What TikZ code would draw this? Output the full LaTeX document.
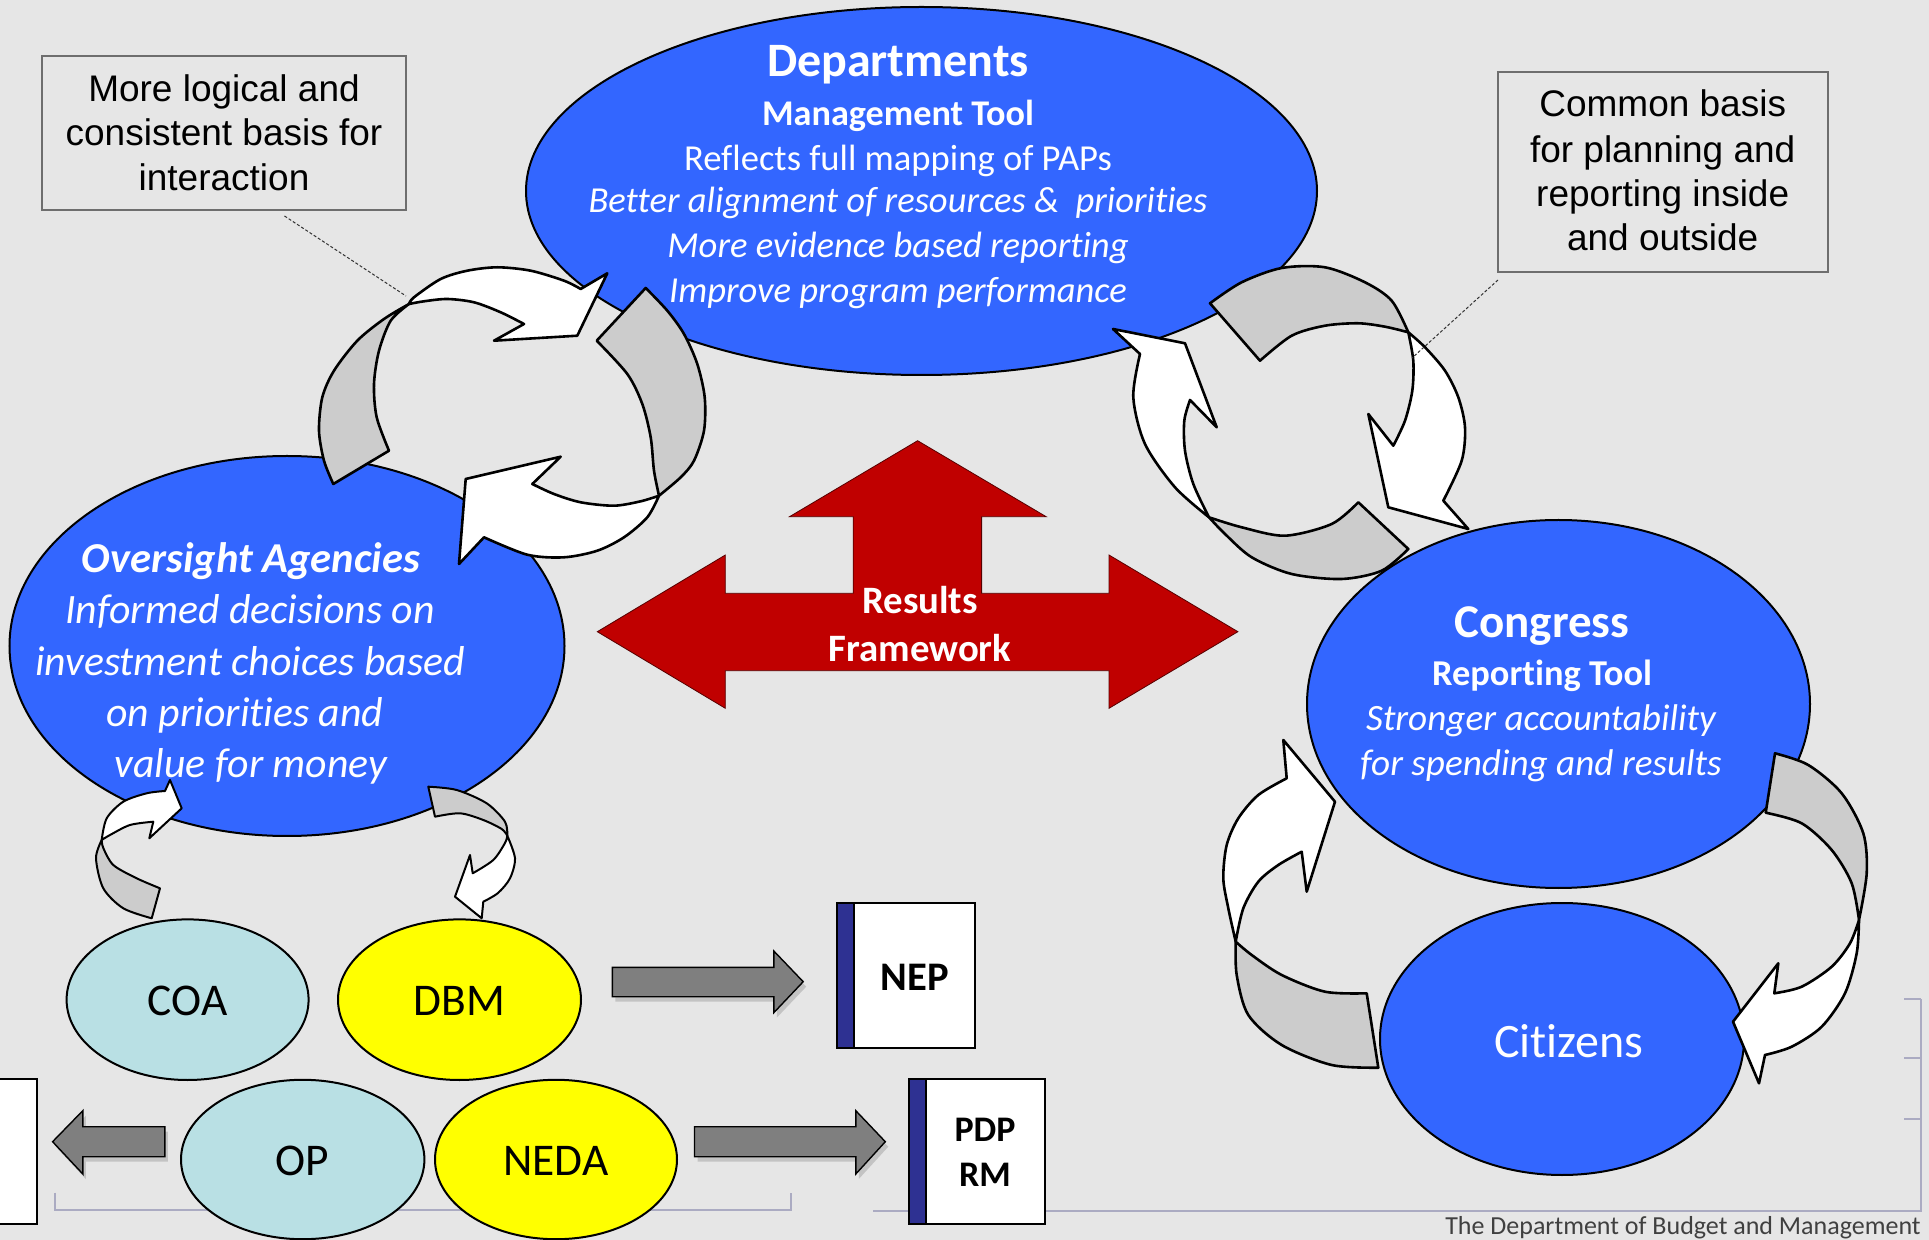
\documentclass[tikz,border=0pt]{standalone}
\usepackage{fontspec}
\setmainfont{Carlito}[Ligatures=NoCommon]
\newfontfamily\arialf{Liberation Sans}
\usetikzlibrary{shapes.geometric}
\definecolor{bg}{HTML}{E6E6E6}
\definecolor{eblue}{HTML}{3366FF}
\definecolor{lblue}{HTML}{B9E0E4}
\definecolor{yel}{HTML}{FFFF00}
\definecolor{rred}{HTML}{C00000}
\definecolor{ribgray}{HTML}{CCCCCC}
\definecolor{barc}{HTML}{2E3192}
\definecolor{bkt}{HTML}{ABABC2}
\definecolor{boxline}{HTML}{6E6E6E}
\definecolor{footc}{HTML}{404040}
\definecolor{garrow}{HTML}{7F7F7F}
\newcommand\fsz[1]{\fontsize{#1}{#1}\selectfont}
\begin{document}
\begin{tikzpicture}[x=0.5pt,y=-0.5pt,
  ell/.style={ellipse, draw=black, line width=1pt, inner sep=0pt},
  bigell/.style={ell, fill=eblue},
  wt/.style={text=white, anchor=base, inner sep=0pt},
  bt/.style={text=black, anchor=base, inner sep=0pt},
  ribw/.style={fill=white, draw=black, line width=1.3pt, line join=round},
  ribg/.style={fill=ribgray, draw=black, line width=1.3pt, line join=round},
  sribw/.style={ribw, line width=1pt},
  sribg/.style={ribg, line width=1pt},
  blockarrow/.style={fill=garrow, draw=black, line width=0.7pt},
  blockshadow/.style={fill=black, opacity=0.15},
  callout/.style={draw=boxline, line width=1pt, fill=bg},
  leader/.style={draw=black!80, line width=0.5pt, dash pattern=on 1.5pt off 1pt},
  doc/.style={draw=black, line width=1pt, fill=white},
  docbar/.style={draw=black, line width=1pt, fill=barc},
  bracket/.style={draw=bkt, line width=1pt}
]
\useasboundingbox (0,0) rectangle (1929,1240);
\clip (0,0) rectangle (1929,1240);
\fill[bg] (0,0) rectangle (1929,1240);

% ---------- thin gray frame lines ----------
\draw[bracket] (54.7,1192.7) -- (54.7,1210) -- (790.6,1210) -- (790.6,1192.7);
\draw[bracket] (873,1211) -- (1921,1211) -- (1921,999);
\draw[bracket] (1904,999) -- (1921,999);
\draw[bracket] (1904,1058) -- (1921,1058);
\draw[bracket] (1904,1119) -- (1921,1119);

% ---------- main ellipses ----------
\node[bigell, minimum width=395.5pt, minimum height=184pt] (dep) at (921.5,191) {};
\node[bigell, minimum width=277.5pt, minimum height=190pt] (ovs) at (287,646) {};
\node[bigell, minimum width=251.5pt, minimum height=184pt] (con) at (1558.5,704) {};
\node[bigell, minimum width=182pt, minimum height=136pt] (cit) at (1562,1039) {};

% ---------- small ellipses ----------
\node[ell, fill=lblue, minimum width=121pt, minimum height=80.3pt] (coa) at (187.6,999.7) {};
\node[ell, fill=yel, minimum width=121.5pt, minimum height=80.3pt] (dbm) at (459.5,999.7) {};
\node[ell, fill=lblue, minimum width=121.7pt, minimum height=79.7pt] (op) at (302.7,1159.5) {};
\node[ell, fill=yel, minimum width=121pt, minimum height=79.7pt] (neda) at (556,1159.5) {};

% ---------- ellipse texts ----------
\node[wt, font=\fsz{24}\bfseries] (dep1) at (898,77) {Departments};
\node[wt, font=\fsz{18.1}\bfseries] (dep2) at (898,126) {Management Tool};
\node[wt, font=\fsz{18.3}] (dep3) at (898,171) {Reflects full mapping of PAPs};
\node[wt, font=\fsz{18.3}\itshape] (dep4) at (898,213) {Better alignment of resources \&\ \ priorities};
\node[wt, font=\fsz{18.3}\itshape] (dep5) at (898,258) {More evidence based reporting};
\node[wt, font=\fsz{18.3}\itshape] (dep6) at (898,303) {Improve program performance};

\node[wt, font=\fsz{21.3}\bfseries\itshape] (ovs1) at (251,573) {Oversight Agencies};
\node[wt, font=\fsz{20.9}\itshape] (ovs2) at (250,624) {Informed decisions on};
\node[wt, font=\fsz{20.9}\itshape] (ovs3) at (250,676) {investment choices based};
\node[wt, font=\fsz{20.9}\itshape] (ovs4) at (245,727) {on priorities and};
\node[wt, font=\fsz{20.9}\itshape] (ovs5) at (251,778) {value for money};

\node[wt, font=\fsz{23.5}\bfseries] (con1) at (1542,638) {Congress};
\node[wt, font=\fsz{18.2}\bfseries] (con2) at (1542,686) {Reporting Tool};
\node[wt, font=\fsz{18.6}\itshape] (con3) at (1541,731) {Stronger accountability};
\node[wt, font=\fsz{18.6}\itshape] (con4) at (1541,776) {for spending and results};

\node[wt, font=\fsz{24}] (cit1) at (1569,1057) {Citizens};

\node[bt, font=\fsz{22.7}] (coat) at (187.7,1015) {COA};
\node[bt, font=\fsz{22.7}] (dbmt) at (459.5,1015) {DBM};
\node[bt, font=\fsz{22.7}] (opt) at (302,1175) {OP};
\node[bt, font=\fsz{22.7}] (nedat) at (556,1175) {NEDA};

% ---------- red results framework arrow ----------
\filldraw[fill=rred, draw=black!55!rred, line width=0.4pt]
  (597.3,631.7) -- (725.3,555) -- (725.3,593.3) -- (853.2,593.3) -- (853.2,516.7)
  -- (789.5,516.7) -- (917.6,440.7) -- (1046.2,516.7) -- (981.6,516.7) -- (981.6,593.3)
  -- (1109,593.3) -- (1109,555) -- (1237.9,631.7) -- (1109,708.3) -- (1109,670.7)
  -- (725.3,670.7) -- (725.3,708.3) -- cycle;
\node[wt, font=\fsz{19.4}\bfseries] (rf1) at (920,614) {Results};
\node[wt, font=\fsz{19.4}\bfseries] (rf2) at (920,662) {Framework};

% ---------- left cycle (Departments / Oversight) ----------
\filldraw[ribg] (333.3,484) -- plot[smooth] coordinates {(333.3,484) (324,460.7) (319,430.7) (322.3,397.3) (334,370.7) (357.3,340.7) (384,319) (409,304)}
  -- plot[smooth] coordinates {(409,304) (390.7,320.7) (379,350.7) (374,384) (376.7,417.3) (389,450.7)} -- cycle;
\filldraw[ribw] (409,304) -- plot[smooth] coordinates {(409,304) (414,297.3) (440.7,279) (467.3,270.7) (497.3,267.3) (530.7,270.7) (564,280.7) (580.7,289)}
  -- (607.3,273.3) -- (577.3,335.7) -- (494,340.7) -- (524,324)
  -- plot[smooth] coordinates {(524,324) (500.7,312.3) (474,302.3) (447.3,299) (424,301.3) (409,304)} -- cycle;
\filldraw[ribg] (596.7,340.7) -- (645.7,288) -- plot[smooth] coordinates {(645.7,288) (667.3,310.7) (684,334) (697.3,364) (704.7,397.3) (704,430.7) (694,460.7) (680.7,477.3) (659,495.7)}
  -- plot[smooth] coordinates {(659,495.7) (654,470.7) (650.7,437.3) (642.3,404) (627.3,374) (596.7,340.7)} -- cycle;
\filldraw[ribw] (659,495.7) -- plot[smooth] coordinates {(659,495.7) (647.3,517.3) (624,537.3) (597.3,550.7) (564,557.3) (527.3,554.7) (484,537.3)}
  -- (459,564) -- (465.7,479) -- (560.7,456.7) -- (532.3,484)
  -- plot[smooth] coordinates {(532.3,484) (554,494) (580.7,502.3) (614,505.7) (640.7,501.3) (659,495.7)} -- cycle;

% ---------- right cycle (Departments / Congress) ----------
\filldraw[ribg] (1260,360.7) -- (1210,303.3) -- plot[smooth] coordinates {(1210,303.3) (1241.7,282.3) (1281.7,268) (1325,267.3) (1365,282.3) (1391.7,300.7) (1408.3,332.3)}
  -- plot[smooth] coordinates {(1408.3,332.3) (1385,326.7) (1358.3,323.3) (1325,325.7) (1291.7,335.7) (1260,360.7)} -- cycle;
\filldraw[ribw] (1408.3,332.3) -- plot[smooth] coordinates {(1408.3,332.3) (1425,347.3) (1445,370.7) (1458.3,397.3) (1465,427.3) (1461.7,460.7) (1443.3,500.7)}
  -- (1468.3,529) -- (1388.3,507.3) -- (1368.3,414) -- (1393.3,445.7)
  -- plot[smooth] coordinates {(1393.3,445.7) (1405,420.7) (1412.3,390.7) (1413.3,360.7) (1408.3,332.3)} -- cycle;
\filldraw[ribg] (1358.3,502.3) -- (1408.3,549) -- plot[smooth] coordinates {(1408.3,549) (1381.7,570.7) (1341.7,579) (1291.7,574) (1251.7,557.3) (1225,534) (1209,517.3)}
  -- plot[smooth] coordinates {(1209,517.3) (1241.7,527.3) (1285,535.7) (1331.7,524) (1358.3,502.3)} -- cycle;
\filldraw[ribw] (1209,517.3) -- plot[smooth] coordinates {(1209,517.3) (1175,487.3) (1145,444) (1133.3,397.3) (1140,354)}
  -- (1113,329) -- (1185,343.3) -- (1216.7,427.3) -- (1190,400)
  -- plot[smooth] coordinates {(1190,400) (1184.3,420.7) (1185,450.7) (1193.3,484) (1209,517.3)} -- cycle;

% ---------- small arrows under Oversight ----------
\filldraw[sribg] (151.7,918.3) -- plot[smooth] coordinates {(151.7,918.3) (123.3,908.3) (103.3,888.3) (96,858.3) (101.7,840)}
  -- plot[smooth] coordinates {(101.7,840) (103.3,848) (113.3,865) (136.7,878.3) (160,888.3)} -- cycle;
\filldraw[sribw] (101.7,840) -- plot[smooth] coordinates {(101.7,840) (106.7,818.3) (123.3,801.7) (146.7,793.3) (165,791)}
  -- (170,780) -- (181.7,808.3) -- (149.3,838.3) -- (153.3,821.7)
  -- plot[smooth] coordinates {(153.3,821.7) (130,825) (110,835) (101.7,840)} -- cycle;
\filldraw[sribg] (435,816.7) -- (428.3,786.7) -- plot[smooth] coordinates {(428.3,786.7) (456.7,790) (486.7,803.3) (505,821.7) (507.3,835.7)}
  -- plot[smooth] coordinates {(507.3,835.7) (501.7,829) (483.3,820) (460,813.3) (435,816.7)} -- cycle;
\filldraw[sribw] (507.3,835.7) -- plot[smooth] coordinates {(507.3,835.7) (515,858.3) (510,878.3) (498,893) (483.3,901.7)}
  -- (481.7,918.3) -- (455,896.7) -- (470,855) -- (472.7,873.3)
  -- plot[smooth] coordinates {(472.7,873.3) (493.3,860) (505,843) (507.3,835.7)} -- cycle;

% ---------- Congress / Citizens arrows ----------
\filldraw[ribg] (1366.7,993.3) -- (1378.3,1067.7) -- plot[smooth] coordinates {(1378.3,1067.7) (1331.7,1065) (1281.7,1045) (1248.3,1015) (1236.7,975) (1235.7,941.7)}
  -- plot[smooth] coordinates {(1235.7,941.7) (1251.7,955) (1281.7,975) (1325,991.7) (1366.7,993.3)} -- cycle;
\filldraw[ribw] (1235.7,941.7) -- plot[smooth] coordinates {(1235.7,941.7) (1228.3,908.3) (1223.3,878.3) (1226.7,845) (1238.3,818.3) (1258.3,795) (1286.7,778.3)}
  -- (1283.3,740) -- (1335,801.7) -- (1306.7,891.7) -- (1301.7,851.7)
  -- plot[smooth] coordinates {(1301.7,851.7) (1278.3,865) (1258.3,881.7) (1243.3,908.3) (1235.7,941.7)} -- cycle;
\filldraw[ribg] (1765.7,812.7) -- (1775,753.3) -- plot[smooth] coordinates {(1775,753.3) (1808.3,765) (1841.7,793.3) (1863.3,833.3) (1866.7,873.3) (1859,920)}
  -- plot[smooth] coordinates {(1859,920) (1851.7,883.3) (1831.7,850) (1801.7,823.3) (1765.7,812.7)} -- cycle;
\filldraw[ribw] (1859,920) -- plot[smooth] coordinates {(1859,920) (1856.7,953.3) (1845,993.3) (1821.7,1026.7) (1791.7,1046.7) (1765,1055)}
  -- (1759,1083.3) -- (1733,1021.7) -- (1778.3,963.3) -- (1774.3,993.3)
  -- plot[smooth] coordinates {(1774.3,993.3) (1801.7,986.7) (1831.7,966.7) (1850,943.3) (1859,920)} -- cycle;

% ---------- callout boxes ----------
\draw[callout] (42.2,56) rectangle (406.2,210);
\node[bt, font=\arialf\fsz{18.5}] (cl1) at (224,102) {More logical and};
\node[bt, font=\arialf\fsz{18.5}] (cl2) at (224,146) {consistent basis for};
\node[bt, font=\arialf\fsz{18.5}] (cl3) at (224,191) {interaction};
\coordinate (lcA) at (284.5,216);
\coordinate (lcB) at (406,296);
\draw[leader] (lcA) -- (lcB);

\draw[callout] (1497.7,71.6) rectangle (1827.6,272.5);
\node[bt, font=\arialf\fsz{18.5}] (cr1) at (1662.7,116.7) {Common basis};
\node[bt, font=\arialf\fsz{18.5}] (cr2) at (1662.7,162.6) {for planning and};
\node[bt, font=\arialf\fsz{18.5}] (cr3) at (1662.7,206.7) {reporting inside};
\node[bt, font=\arialf\fsz{18.5}] (cr4) at (1662.7,250.7) {and outside};
\coordinate (rcA) at (1498,280);
\coordinate (rcB) at (1412,358);
\draw[leader] (rcA) -- (rcB);

% ---------- documents ----------
\draw[doc] (837,903.3) rectangle (975,1048.3);
\draw[docbar] (837,903.3) rectangle (854.4,1048.3);
\node[bt, font=\fsz{20.3}\bfseries] (nep) at (914.7,990) {NEP};

\draw[doc] (908.5,1079.3) rectangle (1045.3,1224);
\draw[docbar] (908.5,1079.3) rectangle (926,1224);
\node[bt, font=\fsz{18}\bfseries] (pdp1) at (985,1141.7) {PDP};
\node[bt, font=\fsz{18}\bfseries] (pdp2) at (985,1186) {RM};

\draw[doc] (-5,1079.3) rectangle (36.5,1224);

% ---------- gray block arrows ----------
\fill[blockshadow] (615.4,972.3) -- (776.8,972.3) -- (776.8,956) -- (806.2,986.7) -- (776.8,1017.7) -- (776.8,1001.7) -- (615.4,1001.7) -- cycle;
\filldraw[blockarrow] (612.4,967.3) -- (773.8,967.3) -- (773.8,951) -- (803.2,981.7) -- (773.8,1012.7) -- (773.8,996.7) -- (612.4,996.7) -- cycle;
\fill[blockshadow] (697.5,1131.7) -- (858.8,1131.7) -- (858.8,1115.7) -- (888.3,1146.7) -- (858.8,1179) -- (858.8,1161.7) -- (697.5,1161.7) -- cycle;
\filldraw[blockarrow] (694.5,1126.7) -- (855.8,1126.7) -- (855.8,1110.7) -- (885.3,1141.7) -- (855.8,1174) -- (855.8,1156.7) -- (694.5,1156.7) -- cycle;
\fill[blockshadow] (167.9,1131.7) -- (85.8,1131.7) -- (85.8,1115.7) -- (55.6,1146.7) -- (85.8,1179) -- (85.8,1161.7) -- (167.9,1161.7) -- cycle;
\filldraw[blockarrow] (164.9,1126.7) -- (82.8,1126.7) -- (82.8,1110.7) -- (52.6,1141.7) -- (82.8,1174) -- (82.8,1156.7) -- (164.9,1156.7) -- cycle;

% ---------- footer ----------
\node[anchor=base east, inner sep=0pt, text=footc, font=\fsz{13}] (footer) at (1921,1234) {The Department of Budget and Management};
\end{tikzpicture}
\end{document}
